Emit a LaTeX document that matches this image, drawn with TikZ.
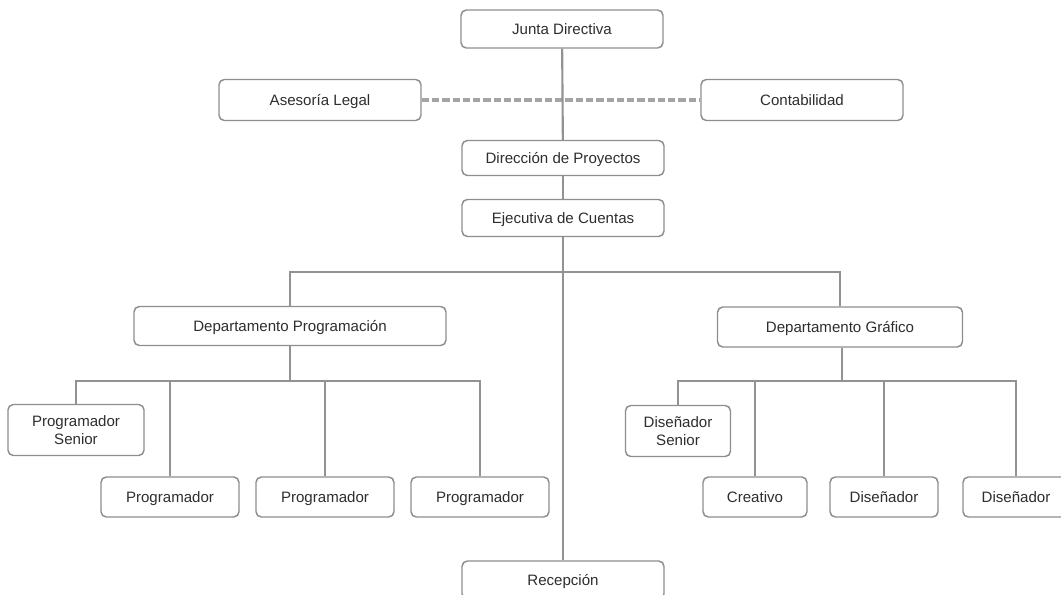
\documentclass[tikz,border=0pt]{standalone}
\usepackage{fontspec}
\setmainfont{Liberation Sans}
\definecolor{boxgrey}{HTML}{8E8E8E}
\definecolor{linegrey}{HTML}{929292}
\definecolor{dashgrey}{HTML}{A4A4A4}
\definecolor{textgrey}{HTML}{2E2E2E}

\begin{document}
\begin{tikzpicture}[x=0.75pt,y=-0.75pt,line width=1.5pt,draw=linegrey]
	\tikzstyle{unit}=[rectangle,rounded corners=4pt,draw=boxgrey,fill=white,line width=1.1pt,text=textgrey,font=\fontsize{11.3}{13.5}\selectfont,align=center,inner sep=2pt,text depth=0pt]
	\tikzstyle{top unit}=[unit,minimum width=151.5pt,minimum height=28.5pt]
	\tikzstyle{side unit}=[unit,minimum width=151.5pt,minimum height=30.75pt]
	\tikzstyle{senior unit}=[unit,minimum height=38.25pt]
	\tikzstyle{staff unit}=[unit,minimum height=30pt]
	\tikzstyle{link}=[draw=linegrey,line width=1.6pt]
	\tikzstyle{advice}=[draw=dashgrey,line width=2.4pt,dash pattern=on 5.5pt off 2.2pt]

	\useasboundingbox (0,0) rectangle (1061,595);

	% Draw the board and the advisers
	\node[top unit] (JD) at (562,29) {Junta Directiva};
	\node[side unit] (AL) at (320,100) {Asesoría Legal};
	\node[side unit] (CO) at (802,100) {Contabilidad};

	% Draw the management line
	\node[top unit,minimum height=26.25pt] (DP) at (563,158) {Dirección de Proyectos};
	\node[top unit,minimum height=27.75pt] (EC) at (563,218) {Ejecutiva de Cuentas};
	\node[top unit] (RE) at (563,580) {Recepción};

	% Draw the departments
	\node[side unit,minimum width=234pt,minimum height=29.25pt] (DPR) at (290,326) {Departamento Programación};
	\node[side unit,minimum width=183.75pt,minimum height=30pt] (DGR) at (840,327) {Departamento Gráfico};

	% Draw the programming staff
	\node[senior unit,minimum width=102pt] (PR-0) at (76,430) {Programador\\Senior};
	\foreach \name / \x in {1/170,2/325,3/480}
	\node[staff unit,minimum width=103.5pt] (PR-\name) at (\x,497) {Programador};

	% Draw the design staff
	\node[senior unit,minimum width=78.75pt] (DI-0) at (678,431) {Diseñador\\Senior};
	\node[staff unit,minimum width=78pt] (DI-1) at (755,497) {Creativo};
	\node[staff unit,minimum width=81pt] (DI-2) at (884,497) {Diseñador};
	\node[staff unit,minimum width=79.5pt] (DI-3) at (1016,497) {Diseñador};

	% Connect the main line
	\coordinate (bus) at (563,272);
	\coordinate (pbus) at (290,381);
	\coordinate (gbus) at (842,381);
	\draw[advice] (AL) -- (CO);
	\draw[link] (JD) -- (DP);
	\draw[link] (DP) -- (EC);
	\draw[link] (EC) -- (RE);
	\draw[link] (DPR) |- (bus) -| (DGR);

	% Connect the staff
	\draw[link] (DPR) -- (pbus);
	\foreach \dest in {0,...,3}
	\draw[link] (pbus) -| (PR-\dest);
	\draw[link] (DGR.south -| gbus) -- (gbus);
	\foreach \dest in {0,...,3}
	\draw[link] (gbus) -| (DI-\dest);
\end{tikzpicture}
\end{document}
